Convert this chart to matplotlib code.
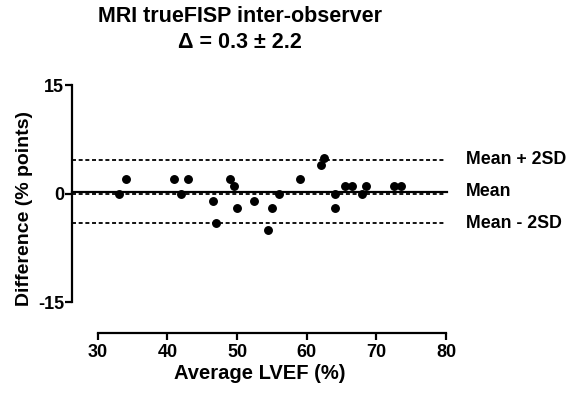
import matplotlib
matplotlib.use("Agg")
import matplotlib.pyplot as plt

plt.rcParams['font.family'] = ['Liberation Sans', 'DejaVu Sans']
plt.rcParams['font.weight'] = 'bold'
plt.rcParams['axes.unicode_minus'] = False

avg_lvef = [33, 34, 41, 42, 43, 46.5, 47, 49, 49.5, 50, 52.5, 54.5, 55, 56, 59,
            62, 62.5, 64, 64, 65.5, 66.5, 68, 68.5, 72.5, 73.5]
difference = [0, 2, 2, 0, 2, -1, -4, 2, 1, -2, -1, -5, -2, 0, 2,
              4, 5, 0, -2, 1, 1, 0, 1, 1, 1]
mean_diff = 0.3
sd_diff = 2.2
x_ticks = [30, 40, 50, 60, 70, 80]
y_ticks = [-15, 0, 15]
line_labels = ["Mean + 2SD", "Mean", "Mean - 2SD"]

fig = plt.figure(figsize=(5.72, 3.96), dpi=100)
ax = fig.add_axes([72/572, 1-333/396, (447-72)/572, (333-83)/396])
ax.set_xlim(26.3, 80.15)
ax.set_ylim(-19.25, 15.3)

upper = mean_diff + 2*sd_diff
lower = mean_diff - 2*sd_diff
x0, x1 = 26.3, 79.7
ax.plot([x0, x1], [upper, upper], color='black', lw=1.3, ls=(0, (2.2, 1.5)), clip_on=False)
ax.plot([x0, x1], [lower, lower], color='black', lw=1.3, ls=(0, (2.2, 1.5)), clip_on=False)
ax.plot([x0, x1], [0, 0], color='black', lw=1.3, ls=(0, (2.2, 1.5)), clip_on=False)
ax.plot([x0, 80.15], [mean_diff, mean_diff], color='black', lw=1.6, clip_on=False)

ax.plot(avg_lvef, difference, 'o', color='black', ms=5.4, clip_on=False, zorder=5)

for lbl, yv in zip(line_labels, [upper, mean_diff, lower]):
    ax.text(1.05, yv, lbl, transform=ax.get_yaxis_transform(), va='center', ha='left',
            fontsize=12.8, fontweight='bold')

for s in ['top', 'right']:
    ax.spines[s].set_visible(False)
ax.spines['left'].set_bounds(-15, 15)
ax.spines['bottom'].set_bounds(30, 80)
ax.spines['left'].set_linewidth(1.6)
ax.spines['bottom'].set_linewidth(1.6)
ax.set_xticks(x_ticks)
ax.set_yticks(y_ticks)
ax.tick_params(width=1.6, length=5, labelsize=13)
ax.tick_params(axis='x', pad=3)
ax.tick_params(axis='y', pad=0.5)
for t in ax.get_xticklabels() + ax.get_yticklabels():
    t.set_fontweight('bold')

ax.set_xlabel("Average LVEF (%)", fontsize=14.5, fontweight='bold', labelpad=2)
ax.set_ylabel("Difference (% points)", fontsize=14, fontweight='bold', labelpad=4)

fig.text(240/572, 1-17/396, "MRI trueFISP inter-observer", ha='center', va='center',
         fontsize=15.5, fontweight='bold')
fig.text(240/572, 1-42/396, "Δ = 0.3 ± 2.2", ha='center', va='center',
         fontsize=15.5, fontweight='bold')

fig.savefig("out.png", dpi=100)
